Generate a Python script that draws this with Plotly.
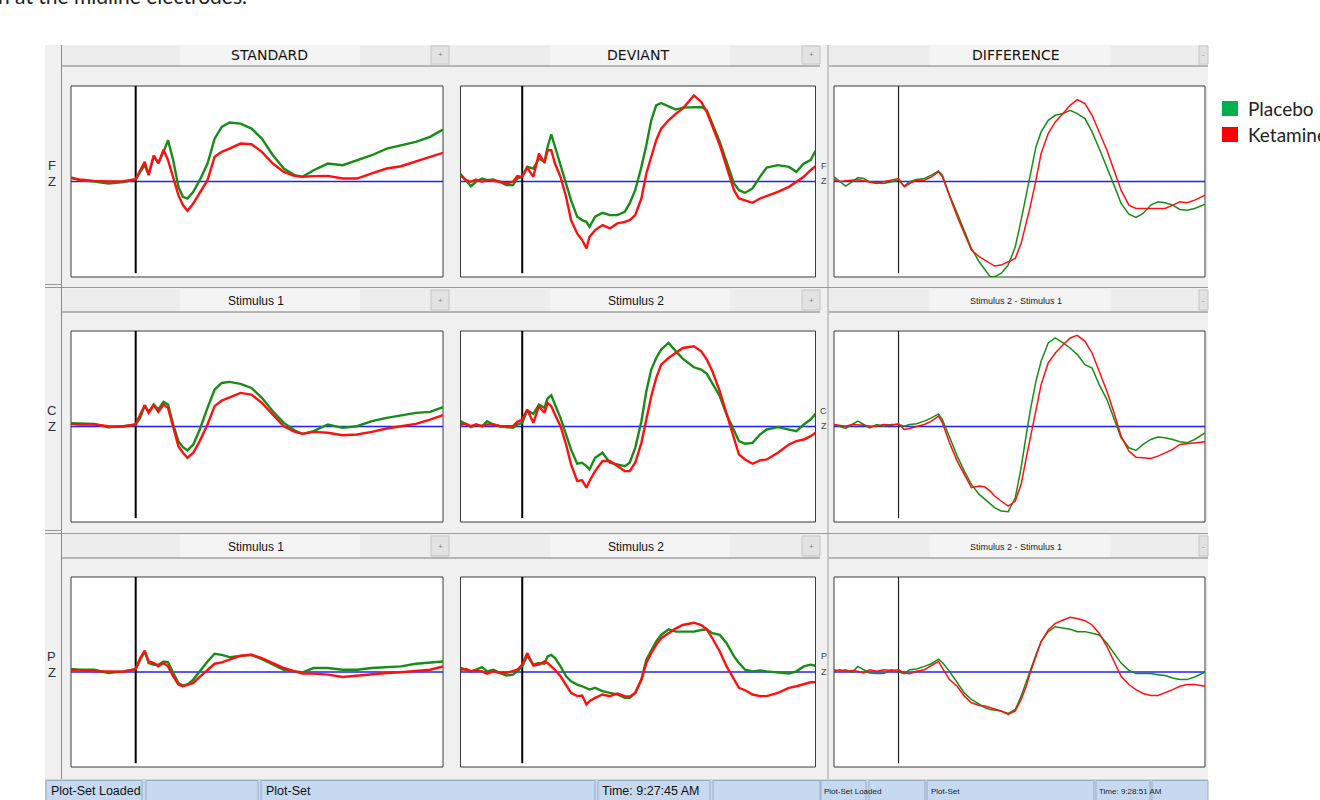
import plotly.graph_objects as go

W, H = 1320, 800

# ---------------------------------------------------------------- data
# ERP averages (µV) for placebo and ketamine sessions at the midline sites.
TIME_STD = [-100, -87, -64, -42, -19, 0, 7, 14, 20, 28, 35, 43, 50, 58, 66, 73, 80, 89, 99, 111,
            122, 133, 145, 162, 179, 195, 212, 229, 246, 258, 275, 297, 320, 342, 365, 388, 410, 433, 455, 475]
TIME_DEV = [-100, -91, -83, -75, -65, -57, -47, -36, -26, -15, -8, 0, 8, 18, 27, 36, 41, 47, 53, 62,
            71, 79, 89, 97, 104, 109, 118, 130, 142, 154, 166, 174, 183, 193, 201, 209, 217, 225, 237, 249,
            260, 278, 290, 299, 308, 320, 331, 343, 351, 361, 373, 385, 396, 414, 432, 444, 456, 467, 475]
TIME_DIF = [-100, -91, -82, -72, -63, -54, -45, -34, -23, -11, 0, 9, 17, 28, 40, 51, 62, 68, 79, 91,
            102, 113, 125, 134, 142, 149, 159, 170, 181, 190, 198, 204, 213, 221, 232, 243, 255, 266, 277, 289,
            300, 311, 323, 334, 345, 357, 368, 379, 391, 402, 413, 425, 436, 447, 459, 475]

FZ_STD_PLACEBO = [0.42, 0.14, 0, -0.21, -0.07, 0.21, 1.01, 1.71, 0.77, 2.65, 1.95, 3.10, 4.32, 2.23, -0.56, -1.60, -1.78, -1.08, 0.14, 1.88,
                  4.49, 5.71, 6.17, 6.06, 5.54, 4.49, 2.75, 1.36, 0.66, 0.49, 1.18, 1.88, 1.71, 2.23, 2.75, 3.45, 3.80, 4.15, 4.67, 5.44]
FZ_STD_KETAMINE = [0.35, 0.21, 0.07, 0, 0.03, 0.24, 1.18, 2.06, 0.66, 2.75, 1.88, 3.34, 2.23, 0.49, -1.43, -2.47, -3.07, -2.30, -1.25, 0.14,
                   2.58, 3.10, 3.45, 3.97, 3.90, 3.10, 1.88, 1.01, 0.56, 0.49, 0.56, 0.59, 0.31, 0.31, 0.84, 1.36, 1.60, 2.06, 2.58, 3.00]
CZ_STD_PLACEBO = [0.35, 0.31, 0.28, -0.07, 0.03, 0.21, 0.91, 2.20, 1.53, 2.30, 1.78, 2.58, 2.30, 0.21, -1.53, -2.16, -2.51, -1.88, -0.31, 1.95,
                  3.87, 4.56, 4.67, 4.46, 4.04, 3.00, 1.60, 0.38, -0.42, -0.77, -0.49, 0.21, -0.14, 0.03, 0.56, 0.91, 1.18, 1.43, 1.53, 2.02]
CZ_STD_KETAMINE = [0.28, 0.21, 0.21, 0.03, 0, 0.21, 1.25, 2.23, 1.43, 2.23, 1.53, 2.30, 1.95, -0.14, -2.06, -2.75, -3.28, -2.75, -1.53, 0.21,
                   2.13, 2.72, 3.07, 3.52, 3.34, 2.47, 1.25, 0.03, -0.56, -0.77, -0.56, -0.66, -0.91, -0.84, -0.56, -0.21, 0.03, 0.28, 0.73, 1.18]
PZ_STD_PLACEBO = [0.31, 0.24, 0.24, -0.10, 0.07, 0.31, 1.29, 2.16, 0.94, 0.77, 0.77, 1.11, 1.01, -0.10, -1.15, -1.43, -1.32, -0.80, 0.07, 1.11,
                  1.92, 1.81, 1.57, 1.71, 1.81, 1.36, 0.77, 0.24, 0.07, -0.03, 0.42, 0.42, 0.24, 0.24, 0.42, 0.52, 0.59, 0.87, 1.01, 1.11]
PZ_STD_KETAMINE = [0.24, 0.17, 0.07, 0.07, 0.03, 0.31, 1.46, 2.26, 1.11, 0.94, 0.59, 0.94, 0.59, -0.45, -1.32, -1.50, -1.32, -1.15, -0.52, 0.24,
                   0.87, 1.01, 1.29, 1.71, 1.81, 1.46, 0.94, 0.42, 0.07, -0.17, -0.17, -0.28, -0.52, -0.38, -0.28, -0.10, -0.03, 0.07, 0.24, 0.59]

FZ_DEV_PLACEBO = [0.77, 0.14, -0.49, -0.03, 0.31, 0.14, 0.21, -0.03, -0.38, -0.38, 0.31, 0.49, 1.53, 1.36, 2.40, 2.06, 3.62, 4.95, 3.62, 1.88,
                  -0.21, -1.95, -3.69, -4.04, -4.22, -4.74, -3.69, -3.28, -3.52, -3.52, -3.17, -2.30, -0.91, 1.53, 3.80, 6.41, 7.98, 8.22, 7.87, 7.53,
                  7.74, 7.74, 7.80, 7.46, 6.06, 4.15, 2.06, -0.21, -0.91, -1.18, -0.73, 0.49, 1.46, 1.71, 1.53, 1.01, 1.88, 2.23, 3.21]
FZ_DEV_KETAMINE = [0.66, 0.14, -0.03, 0.21, -0.03, 0.14, 0.07, -0.03, -0.21, -0.03, 0.56, 0.49, 1.46, 0.49, 2.93, 1.95, 3.28, 3.28, 1.88, 0.49,
                   -1.60, -4.04, -5.44, -6.13, -7.00, -5.78, -5.09, -4.56, -4.91, -4.39, -4.22, -4.04, -3.52, -1.78, 0.84, 2.58, 4.32, 5.54, 6.41, 7.11,
                   7.63, 9.02, 8.33, 7.28, 5.71, 3.80, 1.53, -0.91, -1.78, -1.95, -2.23, -1.78, -1.53, -1.08, -0.56, -0.03, 0.49, 1.18, 1.60]
CZ_DEV_PLACEBO = [0.56, 0.21, -0.07, 0.21, 0.03, 0.56, 0.21, 0.03, -0.07, -0.14, 0.21, 0.38, 1.67, 1.32, 2.30, 1.95, 2.93, 3.28, 2.30, 0.91,
                  -0.84, -2.40, -3.90, -3.80, -4.15, -4.49, -3.28, -2.75, -3.80, -3.97, -4.15, -3.80, -2.23, 0.56, 3.69, 5.96, 7.18, 8.05, 8.75, 7.87,
                  7.11, 6.20, 5.96, 5.51, 4.56, 3.17, 1.25, -0.49, -1.53, -1.81, -1.71, -0.84, -0.31, -0.07, -0.31, -0.49, 0.21, 0.73, 1.32]
CZ_DEV_KETAMINE = [0.21, 0.28, 0.03, 0.21, 0.03, 0.21, 0.21, 0.03, 0.03, 0.03, 0.49, 0.73, 1.78, 0.38, 2.13, 1.43, 2.47, 2.13, 1.25, 0.03,
                   -1.88, -3.97, -5.71, -5.64, -6.41, -5.71, -4.67, -3.62, -3.62, -4.15, -4.67, -4.67, -3.80, -1.71, 0.73, 3.17, 5.09, 6.48, 7.18, 7.70,
                   8.22, 8.40, 7.87, 7.00, 5.78, 3.69, 1.25, -1.18, -2.93, -3.45, -3.90, -3.55, -3.45, -2.75, -1.88, -1.53, -1.36, -1.01, -0.66]
PZ_DEV_PLACEBO = [0.42, 0.24, 0.07, 0.24, 0.52, 0.07, 0.24, -0.10, -0.38, -0.28, 0.07, 0.59, 1.71, 0.77, 0.94, 0.87, 1.64, 1.81, 1.46, 0.59,
                  -0.45, -0.98, -1.32, -1.50, -1.67, -1.85, -1.67, -2.02, -2.20, -2.37, -2.72, -2.72, -2.20, -0.80, 1.29, 2.33, 3.21, 3.90, 4.49, 4.25,
                  4.25, 4.25, 4.42, 4.49, 4.08, 3.90, 3.03, 1.64, 0.94, 0.24, 0.07, 0.17, 0.07, -0.03, -0.17, 0.07, 0.59, 0.77, 0.66]
PZ_DEV_KETAMINE = [0.24, 0.31, 0.07, 0.17, 0.07, -0.17, 0.07, -0.10, -0.10, 0.07, 0.24, 0.77, 1.99, 0.66, 0.77, 1.11, 0.94, 0.59, 0.24, -0.45,
                   -1.32, -2.20, -2.54, -2.47, -3.41, -3.07, -2.72, -2.37, -2.54, -2.26, -2.54, -2.61, -2.20, -0.80, 0.94, 1.99, 2.86, 3.55, 4.08, 4.60,
                   4.95, 5.19, 4.95, 4.49, 3.55, 2.16, 0.59, -0.80, -1.67, -1.92, -2.37, -2.54, -2.54, -2.20, -1.67, -1.50, -1.32, -1.08, -1.08]

FZ_DIF_PLACEBO = [0.49, -0.03, -0.49, -0.03, 0.42, 0.31, -0.03, -0.14, -0.21, -0.03, 0.14, -0.49, -0.03, 0.21, 0.31, 0.66, 1.11, 0.66, -1.43, -3.34,
                  -5.09, -7.00, -8.40, -9.27, -9.97, -9.97, -9.62, -8.75, -6.83, -4.04, -1.25, 0.84, 3.62, 5.19, 6.41, 6.93, 7.11, 7.46, 7.11, 6.59,
                  5.19, 3.45, 1.53, -0.38, -2.30, -3.41, -3.76, -3.34, -2.47, -2.13, -2.23, -2.47, -2.93, -3.00, -2.82, -2.37]
FZ_DIF_KETAMINE = [0.21, -0.03, 0.07, 0.14, 0.21, 0.07, -0.03, -0.21, -0.03, 0.14, 0.31, -0.56, -0.21, 0.14, 0.14, 0.49, 1.01, 0.49, -1.60, -3.69,
                   -5.44, -7.18, -7.87, -8.22, -8.50, -8.85, -8.75, -8.40, -8.05, -6.48, -4.39, -2.65, 0.14, 2.93, 5.02, 6.24, 7.11, 7.98, 8.57, 8.15,
                   6.93, 5.19, 3.28, 1.18, -0.91, -2.47, -2.82, -2.82, -2.82, -2.82, -2.82, -2.47, -2.13, -2.23, -1.95, -1.43]
CZ_DIF_PLACEBO = [0.21, 0.03, -0.21, 0.21, 0.56, 0.21, -0.14, 0.21, 0.03, 0.21, 0.21, 0.03, 0.21, 0.28, 0.56, 0.91, 1.32, 0.73, -1.18, -3.10,
                  -4.67, -6.06, -7.11, -7.63, -8.15, -8.50, -8.85, -8.92, -7.46, -4.32, -0.84, 1.60, 4.74, 6.83, 8.75, 9.27, 8.75, 8.22, 7.53, 6.48,
                  6.13, 4.39, 2.82, 0.91, -1.18, -2.23, -2.51, -1.88, -1.36, -1.11, -1.18, -1.36, -1.60, -1.71, -1.36, -0.66]
CZ_DIF_KETAMINE = [0.21, 0.14, 0.03, 0.21, 0.21, 0.14, 0.03, 0.03, 0.21, 0.14, 0.28, -0.31, -0.21, 0.03, 0.21, 0.56, 1.08, 0.38, -1.71, -3.62,
                   -5.02, -6.41, -6.24, -6.34, -6.76, -7.28, -7.80, -8.33, -7.80, -6.06, -3.28, -1.18, 1.95, 4.39, 6.66, 7.70, 8.57, 9.27, 9.55, 8.92,
                   7.70, 5.78, 3.69, 1.43, -1.01, -2.58, -3.21, -3.28, -3.34, -3.10, -2.75, -2.40, -1.88, -1.81, -1.71, -1.60]
PZ_DIF_PLACEBO = [0.24, 0.07, 0.24, -0.03, 0.59, 0.24, -0.10, -0.17, -0.17, 0.24, -0.03, -0.17, 0.24, 0.31, 0.59, 0.87, 1.36, 1.01, 0.07, -1.15,
                  -2.20, -2.89, -3.41, -3.76, -3.94, -4.01, -4.11, -4.36, -3.94, -2.54, -0.98, 0.24, 1.81, 3.21, 4.25, 4.77, 4.60, 4.49, 4.25, 4.25,
                  4.08, 3.90, 3.03, 1.99, 0.94, 0.17, -0.17, -0.17, -0.17, -0.28, -0.38, -0.63, -0.80, -0.80, -0.52, -0.03]
PZ_DIF_KETAMINE = [0.07, 0.24, 0.07, 0.17, 0.07, -0.10, 0.24, 0.07, 0.24, 0.17, 0.24, -0.10, -0.17, 0.07, 0.24, 0.66, 1.11, 0.42, -0.80, -1.50,
                   -2.54, -3.24, -3.52, -3.59, -3.76, -3.94, -4.11, -4.46, -4.11, -2.89, -1.50, -0.10, 1.64, 3.21, 4.43, 5.12, 5.47, 5.75, 5.64, 5.40,
                   4.95, 4.08, 2.68, 1.11, -0.45, -1.32, -1.85, -2.26, -2.47, -2.47, -2.20, -1.85, -1.50, -1.32, -1.32, -1.50]

SITES = ["FZ", "CZ", "PZ"]
COLUMN_TITLES = ["STANDARD", "DEVIANT", "DIFFERENCE"]
ROW_TITLES = ["Stimulus 1", "Stimulus 2", "Stimulus 2 - Stimulus 1"]
GROUPS = ["Placebo", "Ketamine"]

TIMES = [TIME_STD, TIME_DEV, TIME_DIF]
WAVES = [
    [(FZ_STD_PLACEBO, FZ_STD_KETAMINE), (FZ_DEV_PLACEBO, FZ_DEV_KETAMINE), (FZ_DIF_PLACEBO, FZ_DIF_KETAMINE)],
    [(CZ_STD_PLACEBO, CZ_STD_KETAMINE), (CZ_DEV_PLACEBO, CZ_DEV_KETAMINE), (CZ_DIF_PLACEBO, CZ_DIF_KETAMINE)],
    [(PZ_STD_PLACEBO, PZ_STD_KETAMINE), (PZ_DEV_PLACEBO, PZ_DEV_KETAMINE), (PZ_DIF_PLACEBO, PZ_DIF_KETAMINE)],
]

# ---------------------------------------------------------------- layout helpers
BOX_X = [(71, 443), (460.5, 815.5), (834, 1205)]
BOX_Y = [(86, 277), (331, 522), (577, 767)]
BAR_Y = [(45, 66), (289, 312), (535, 558)]
X_RANGE = [-100, 475]
Y_RANGE = [-10, 10]

GREEN = "#178c17"
RED = "#ff1010"
GRAY_BG = "#f0f0f0"
EDGE = "#8c8c8c"


def fx(x):
    return x / W


def fy(y):
    return 1 - y / H


shapes = []
annotations = []


def rect(x0, y0, x1, y1, fill, line=None, width=1):
    shapes.append(dict(type="rect", xref="paper", yref="paper", layer="below",
                       x0=fx(x0), x1=fx(x1), y0=fy(y1), y1=fy(y0), fillcolor=fill,
                       line=dict(color=line or "rgba(0,0,0,0)", width=width if line else 0)))


def hline(x0, x1, y, color=EDGE, width=1):
    shapes.append(dict(type="line", xref="paper", yref="paper", layer="below",
                       x0=fx(x0), x1=fx(x1), y0=fy(y), y1=fy(y), line=dict(color=color, width=width)))


def vline(x, y0, y1, color=EDGE, width=1):
    shapes.append(dict(type="line", xref="paper", yref="paper", layer="below",
                       x0=fx(x), x1=fx(x), y0=fy(y0), y1=fy(y1), line=dict(color=color, width=width)))


def text(x, y, s, size=12, family="Liberation Sans", color="#1a1a1a", xanchor="center", yanchor="middle"):
    annotations.append(dict(xref="paper", yref="paper", x=fx(x), y=fy(y), text=s, showarrow=False,
                            xanchor=xanchor, yanchor=yanchor, borderpad=0,
                            font=dict(size=size, family=family, color=color)))


NARROW = "Liberation Sans Narrow, Arial Narrow, Liberation Sans, sans-serif"

# ---------------------------------------------------------------- window chrome
rect(45, 45, 1208, 780, GRAY_BG)
for r, (b0, b1) in enumerate(BAR_Y):
    rect(62, b0, 820, b1, "#ededed")
    rect(180, b0, 360, b1, "#f4f4f4")
    rect(550, b0, 730, b1, "#f4f4f4")
    rect(829, b0, 1208, b1, "#ededed")
    rect(930, b0, 1110, b1, "#f4f4f4")
    hline(62, 820, b1, "#7a7a7a")
    hline(829, 1208, b1, "#7a7a7a")
    for bx0, bx1, sign in [(431, 449, "+"), (802, 820, "+"), (1199, 1208, "-")]:
        rect(bx0, b0 + 1, bx1, b1 - 2, "#e2e2e2", "#c4c4c4")
        text((bx0 + bx1) / 2, (b0 + b1) / 2 - 0.5, sign, size=8, color="#808080")

for y in (286, 532):
    hline(45, 62, y - 1.5, "#9a9a9a")
    hline(45, 1208, y + 1.5, "#9a9a9a")
vline(61.5, 45, 779, "#8a8a8a")
vline(828, 45, 779, "#a0a0a0")

# ---------------------------------------------------------------- plot frames
for r in range(3):
    for c in range(3):
        x0, x1 = BOX_X[c]
        y0, y1 = BOX_Y[r]
        rect(x0, y0, x1, y1, "#ffffff", "#3c3c3c", 1)

# ---------------------------------------------------------------- axes + traces
fig = go.Figure()
layout_axes = {}
for r in range(3):
    for c in range(3):
        k = r * 3 + c + 1
        xa = "x" if k == 1 else f"x{k}"
        ya = "y" if k == 1 else f"y{k}"
        x0, x1 = BOX_X[c]
        y0, y1 = BOX_Y[r]
        layout_axes["xaxis" if k == 1 else f"xaxis{k}"] = dict(
            domain=[fx(x0), fx(x1)], range=X_RANGE, visible=False, anchor=ya, fixedrange=True)
        layout_axes["yaxis" if k == 1 else f"yaxis{k}"] = dict(
            domain=[fy(y1), fy(y0)], range=Y_RANGE, visible=False, anchor=xa, fixedrange=True)

        # zero baseline and stimulus onset marker
        shapes.append(dict(type="line", xref=f"{xa} domain", yref=ya, x0=0, x1=1, y0=0, y1=0,
                           layer="below", line=dict(color="#1f1fff", width=1.5)))
        shapes.append(dict(type="line", xref=xa, yref=ya, x0=0, x1=0, y0=-9.6, y1=10,
                           layer="below",
                           line=dict(color="#000000" if c < 2 else "#202020", width=2 if c < 2 else 1.2)))

        lw = 2.4 if c < 2 else 1.5
        placebo, ketamine = WAVES[r][c]
        for vals, color, name in [(placebo, GREEN, GROUPS[0]), (ketamine, RED, GROUPS[1])]:
            fig.add_trace(go.Scatter(x=TIMES[c], y=vals, mode="lines", name=name,
                                     line=dict(color=color, width=lw),
                                     xaxis=xa, yaxis=ya, showlegend=False, hoverinfo="skip"))

# ---------------------------------------------------------------- titles & labels
for c, t in enumerate(COLUMN_TITLES):
    cx = [269, 638, 1016][c]
    text(cx, 55.5, t, size=14, family="DejaVu Sans", color="#111111")
for r in (1, 2):
    by = (BAR_Y[r][0] + BAR_Y[r][1]) / 2
    text(256, by, ROW_TITLES[0], size=12, family=NARROW, color="#111111")
    text(636, by, ROW_TITLES[1], size=12, family=NARROW, color="#111111")
    text(1016, by, ROW_TITLES[2], size=9, family=NARROW, color="#222222")

for r, site in enumerate(SITES):
    base = (BOX_Y[r][0] + BOX_Y[r][1]) / 2
    text(52, base - 16, site[0], size=13, family=NARROW, color="#2a3340")
    text(52, base, site[1], size=13, family=NARROW, color="#2a3340")
    text(823.5, base - 16, site[0], size=9, family=NARROW, color="#444444")
    text(823.5, base, site[1], size=9, family=NARROW, color="#444444")

# ---------------------------------------------------------------- status bars
rect(45, 779, 1208, 800, "#c6d9f1")
for sx0, sx1 in [(46, 142), (146, 258), (261, 595), (598, 710), (713, 820),
                 (821, 866), (869, 925), (927, 1094), (1096, 1150), (1152, 1208)]:
    rect(sx0, 780.5, sx1, 801, "rgba(0,0,0,0)", "#98abc4", 1)
text(50, 791, "Plot-Set Loaded", size=12.5, family="Liberation Sans", color="#111111", xanchor="left")
text(265, 791, "Plot-Set", size=12.5, family="Liberation Sans", color="#111111", xanchor="left")
text(601, 791, "Time: 9:27:45 AM", size=12.5, family="Liberation Sans", color="#111111", xanchor="left")
text(823, 791, "Plot-Set Loaded", size=8, family=NARROW, color="#222222", xanchor="left")
text(930, 791, "Plot-Set", size=8, family=NARROW, color="#222222", xanchor="left")
text(1098, 791, "Time: 9:28:51 AM", size=8, family=NARROW, color="#222222", xanchor="left")

# ---------------------------------------------------------------- legend
rect(1222, 101, 1238, 116, "#00b050")
rect(1222, 127, 1238, 142, "#ff0000")
text(1247, 108.5, GROUPS[0], size=19, family="Lato", color="#222222", xanchor="left")
text(1247, 134.5, GROUPS[1], size=19, family="Lato", color="#222222", xanchor="left")

# caption line running off the top edge
text(-3, 9, "n at the midline electrodes.", size=21, family="Lato", color="#222222",
     xanchor="left", yanchor="bottom")

fig.update_layout(
    width=W, height=H,
    margin=dict(l=0, r=0, t=0, b=0),
    paper_bgcolor="#ffffff",
    plot_bgcolor="rgba(0,0,0,0)",
    showlegend=False,
    shapes=shapes,
    annotations=annotations,
    **layout_axes,
)

fig.write_html("out.html")
